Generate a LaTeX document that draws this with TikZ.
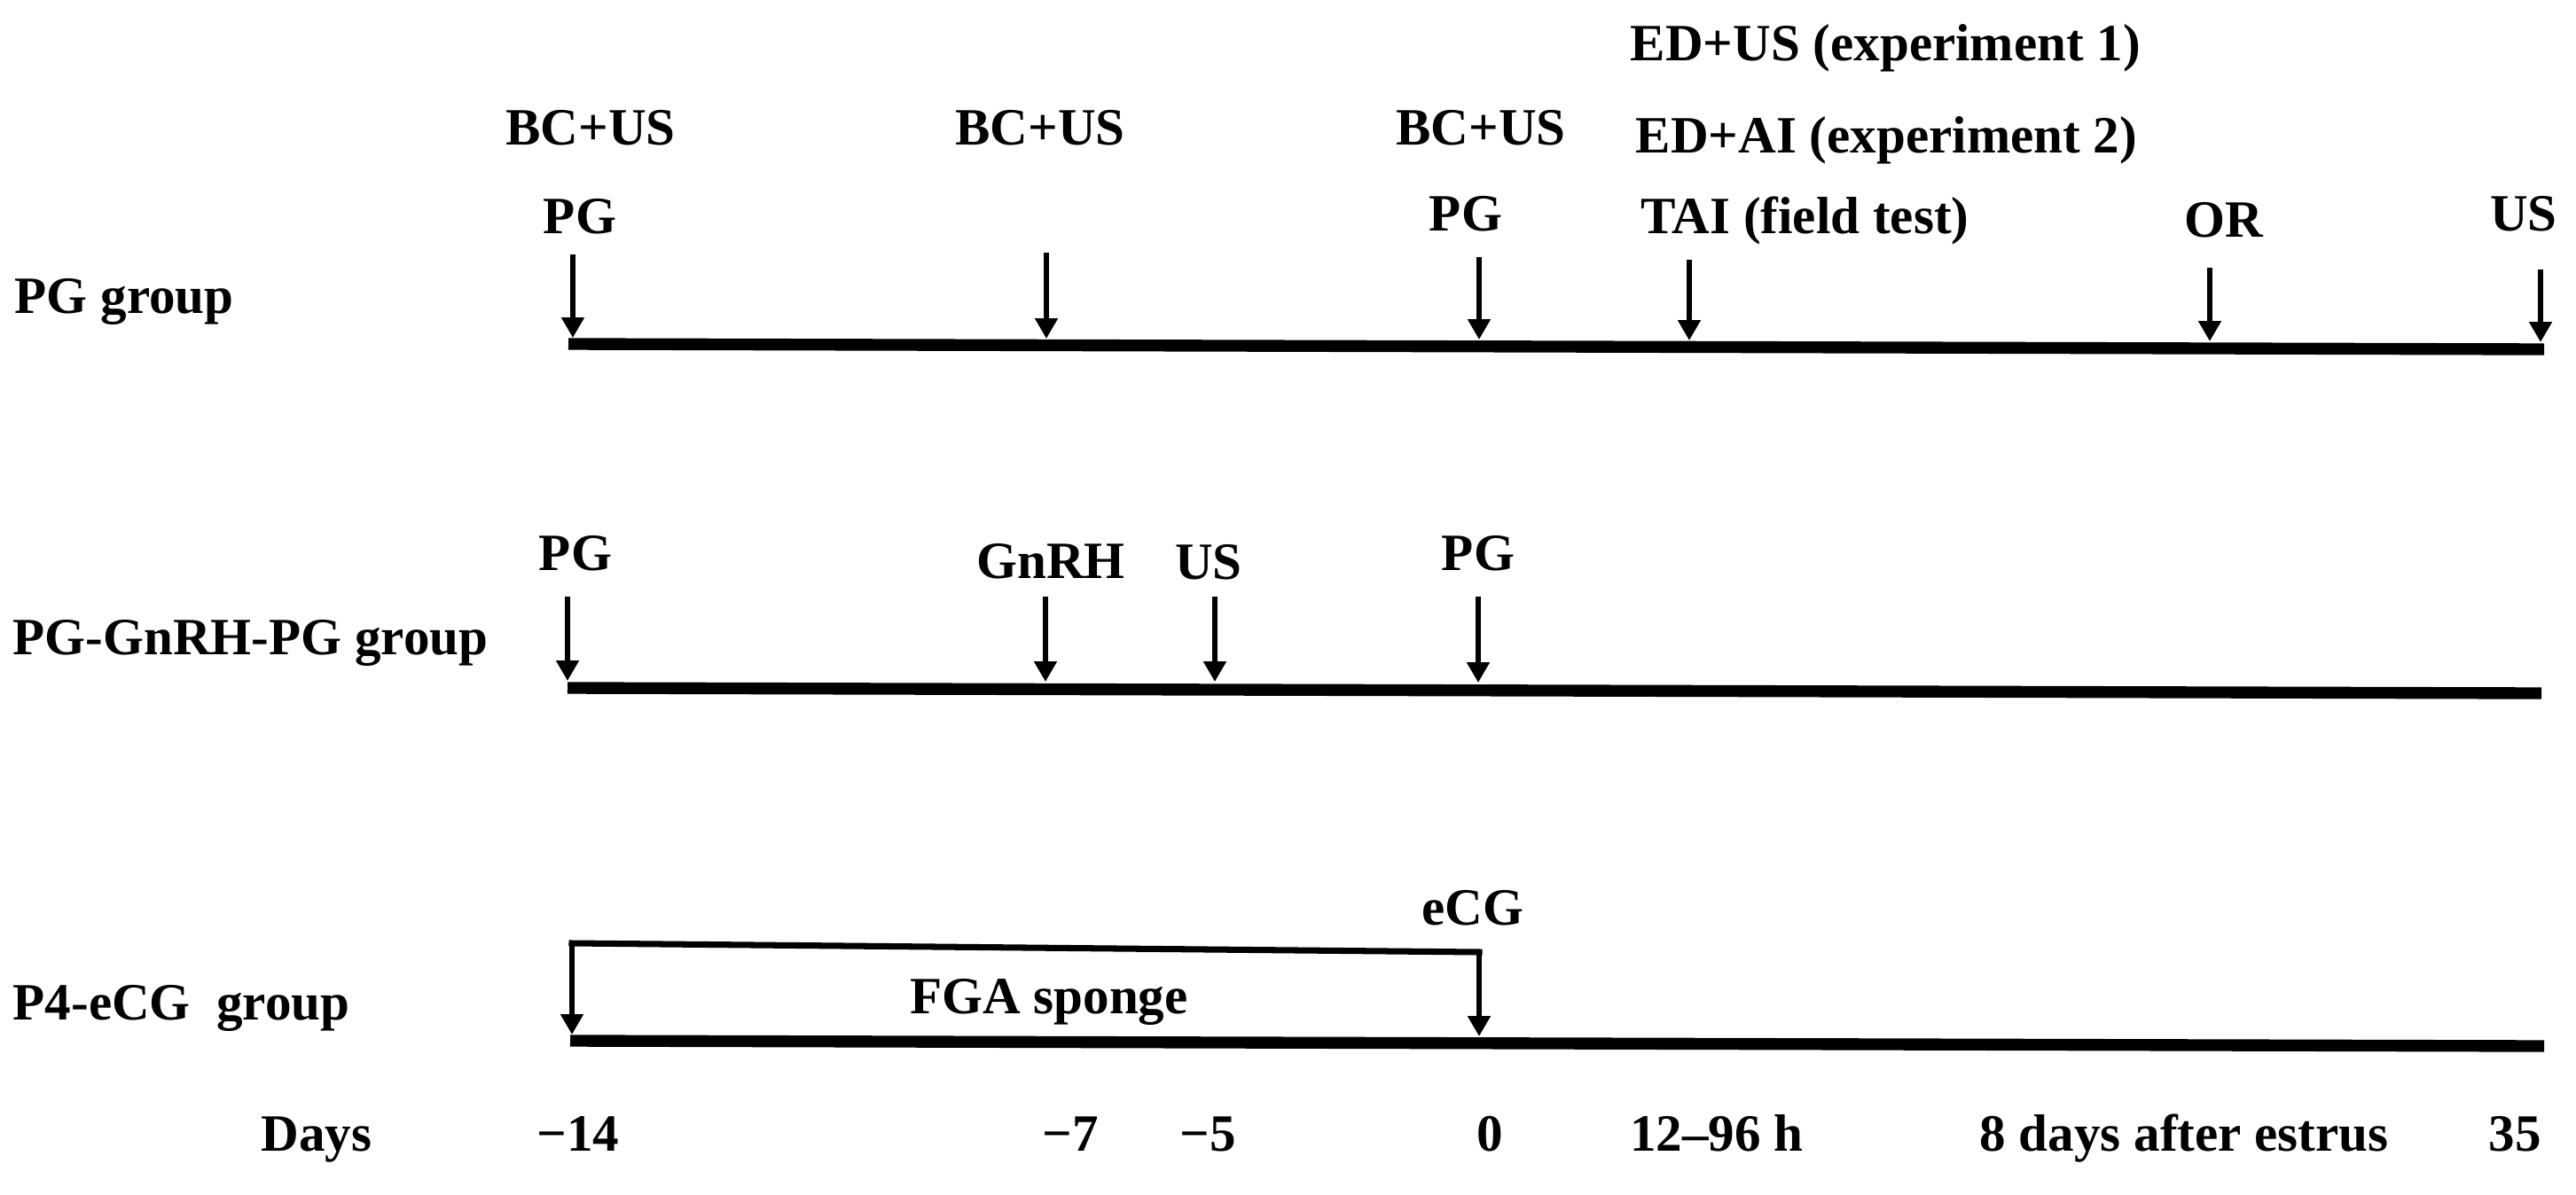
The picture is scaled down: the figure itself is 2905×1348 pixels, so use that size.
\documentclass[tikz,border=0pt]{standalone}
\usepackage{fontspec}
\setmainfont{Liberation Serif}
\usetikzlibrary{arrows.meta}
\tikzset{
  lbl/.style={inner sep=0pt, anchor=base, font=\fontsize{16.8pt}{19pt}\selectfont\bfseries},
  lblw/.style={lbl, anchor=base west},
  timeline/.style={line width=3.8pt, line cap=butt},
  marker/.style={line width=1.6pt, -{Triangle[length=6.5pt,width=7pt]}},
  bracket/.style={line width=2pt},
}
\begin{document}
\begin{tikzpicture}[x=0.01cm,y=-0.01cm]
\useasboundingbox (0,0) rectangle (2905,1348);
% ---------- Row 1: PG group ----------
\node[lblw] (g1) at (16,353) {PG group};
\coordinate (r1a) at (641,388);
\coordinate (r1b) at (2869,394);
\draw[timeline] (r1a) -- (r1b);
\node[lbl] (bc1) at (666,163) {BC+US};
\node[lbl] (pg1) at (654,263) {PG};
\node[lbl] (bc2) at (1173,163) {BC+US};
\node[lbl] (bc3) at (1670,163) {BC+US};
\node[lbl] (pg2) at (1653,260) {PG};
\node[lblw] (ed1) at (1838,68) {ED+US (experiment 1)};
\node[lblw] (ed2) at (1844,172) {ED+AI (experiment 2)};
\node[lblw] (tai) at (1850,263) {TAI (field test)};
\node[lbl] (or) at (2508,267) {OR};
\node[lbl] (us1) at (2846,260) {US};
\coordinate (a1t) at (646,287);  \coordinate (a1b) at (646,381);
\coordinate (a2t) at (1180,285); \coordinate (a2b) at (1180,382);
\coordinate (a3t) at (1668,290); \coordinate (a3b) at (1668,383);
\coordinate (a4t) at (1905,293); \coordinate (a4b) at (1905,384);
\coordinate (a5t) at (2492,302); \coordinate (a5b) at (2492,385);
\coordinate (a6t) at (2865,304); \coordinate (a6b) at (2865,386);
\foreach \i in {1,...,6} \draw[marker] (a\i t) -- (a\i b);
% ---------- Row 2: PG-GnRH-PG group ----------
\node[lblw] (g2) at (14,738) {PG-GnRH-PG group};
\coordinate (r2a) at (640,776);
\coordinate (r2b) at (2866,782);
\draw[timeline] (r2a) -- (r2b);
\node[lbl] (pg3) at (649,643) {PG};
\node[lbl] (gn) at (1185,652) {GnRH};
\node[lbl] (us2) at (1363,653) {US};
\node[lbl] (pg4) at (1667,643) {PG};
\coordinate (b1t) at (640,673);  \coordinate (b1b) at (640,768);
\coordinate (b2t) at (1179,673); \coordinate (b2b) at (1179,769);
\coordinate (b3t) at (1370,673); \coordinate (b3b) at (1370,769);
\coordinate (b4t) at (1667,673); \coordinate (b4b) at (1667,770);
\foreach \i in {1,...,4} \draw[marker] (b\i t) -- (b\i b);
% ---------- Row 3: P4-eCG group ----------
\node[lblw] (g3) at (14,1150) {P4-eCG\ \ group};
\coordinate (r3a) at (643,1174);
\coordinate (r3b) at (2869,1180);
\draw[timeline] (r3a) -- (r3b);
\node[lbl] (ecg) at (1661,1043) {eCG};
\node[lbl] (fga) at (1183,1143) {FGA sponge};
\coordinate (c1t) at (645,1064);  \coordinate (c1b) at (645,1167);
\coordinate (c2t) at (1668,1074); \coordinate (c2b) at (1668,1169);
\draw[bracket, line cap=rect] (c1t) -- (c2t);
\draw[marker] (c1t) -- (c1b);
\draw[marker] (c2t) -- (c2b);
% ---------- Days axis ----------
\node[lbl] (days) at (357,1298) {Days};
\node[lbl] (d14) at (652,1298) {−14};
\node[lbl] (d7) at (1207,1298) {−7};
\node[lbl] (d5) at (1362,1298) {−5};
\node[lbl] (d0) at (1680,1298) {0};
\node[lbl] (dh) at (1936,1298) {12–96 h};
\node[lbl] (d8) at (2463,1298) {8 days after estrus};
\node[lbl] (d35) at (2836,1298) {35};
\end{tikzpicture}
\end{document}
